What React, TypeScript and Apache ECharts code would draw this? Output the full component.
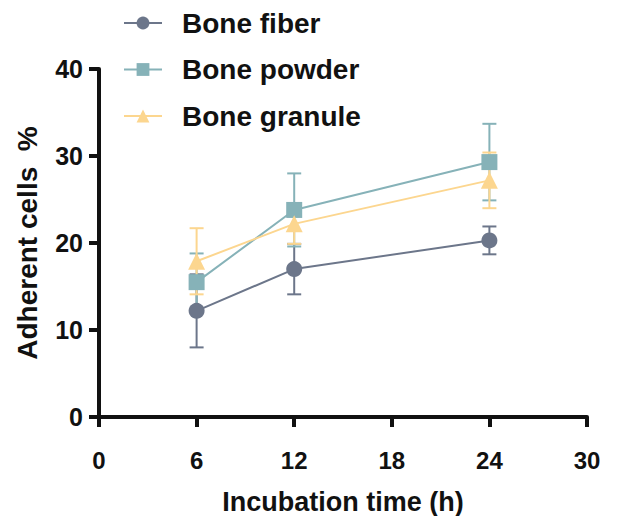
import React, { useEffect, useRef } from "react";
import * as echarts from "echarts";

const times = [6, 12, 24];
const seriesNames = ["Bone fiber", "Bone powder", "Bone granule"];
const fiberMean = [12.2, 17.0, 20.3];
const fiberSd = [4.2, 2.9, 1.6];
const powderMean = [15.5, 23.8, 29.3];
const powderSd = [3.3, 4.2, 4.4];
const granuleMean = [17.9, 22.2, 27.2];
const granuleSd = [3.8, 2.3, 3.2];
const colors = ["#6c768a", "#86b2b8", "#fcd68f"];
const symbols = ["circle", "rect", "triangle"];
const xTicks = [0, 6, 12, 18, 24, 30];

const FONT = "'Liberation Sans', Arial, Helvetica, sans-serif";

export default function App() {
  const ref = useRef<HTMLDivElement>(null);
  useEffect(() => {
    if (!ref.current) return;
    const chart = echarts.init(ref.current, null, { renderer: "svg" });
    const means = [fiberMean, powderMean, granuleMean];
    const sds = [fiberSd, powderSd, granuleSd];

    const errSeries = means.map((m, si) => ({
      type: "custom",
      name: seriesNames[si] + " err",
      z: 1,
      silent: true,
      data: times.map((t, i) => [t, m[i] - sds[si][i], m[i] + sds[si][i]]),
      renderItem: (params: any, api: any) => {
        const x = api.value(0);
        const lo = api.coord([x, api.value(1)]);
        const hi = api.coord([x, api.value(2)]);
        const hw = 7;
        const style = { stroke: colors[si], lineWidth: 2 };
        return {
          type: "group",
          children: [
            { type: "line", shape: { x1: lo[0], y1: lo[1], x2: hi[0], y2: hi[1] }, style },
            { type: "line", shape: { x1: lo[0] - hw, y1: lo[1], x2: lo[0] + hw, y2: lo[1] }, style },
            { type: "line", shape: { x1: hi[0] - hw, y1: hi[1], x2: hi[0] + hw, y2: hi[1] }, style },
          ],
        };
      },
    }));

    const lineSeries = means.map((m, si) => ({
      type: "line",
      name: seriesNames[si],
      z: 3,
      data: times.map((t, i) => [t, m[i]]),
      symbol: symbols[si],
      symbolSize: si === 2 ? 17 : 16,
      lineStyle: { color: colors[si], width: 2 },
      itemStyle: { color: colors[si] },
    }));

    chart.setOption({
      animation: false,
      color: colors,
      grid: { left: 99, right: 56, top: 69, bottom: 99, containLabel: false, outerBoundsMode: "none" },
      legend: {
        orient: "vertical",
        left: 118,
        top: 4,
        itemGap: 18.5,
        itemWidth: 38,
        itemHeight: 16,
        data: seriesNames,
        textStyle: {
          fontFamily: FONT,
          fontWeight: "bold",
          fontSize: 28,
          color: "#111",
          padding: [0, 0, 0, 15],
        },
      },
      xAxis: {
        type: "value",
        min: 0,
        max: 30,
        interval: 6,
        name: "Incubation time (h)",
        nameLocation: "middle",
        nameGap: 71,
        nameTextStyle: { fontFamily: FONT, fontWeight: "bold", fontSize: 27, color: "#111" },
        axisLine: { show: true, onZero: false, lineStyle: { color: "#111", width: 4 } },
        axisTick: { show: true, length: 10, lineStyle: { color: "#111", width: 4 } },
        axisLabel: {
          margin: 31,
          fontFamily: FONT,
          fontWeight: "bold",
          fontSize: 24,
          color: "#111",
          formatter: (v: number) => (xTicks.includes(v) ? String(v) : ""),
        },
        splitLine: { show: false },
      },
      yAxis: {
        type: "value",
        min: 0,
        max: 40,
        interval: 10,
        name: "Adherent cells  %",
        nameLocation: "middle",
        nameGap: 58,
        nameTextStyle: { fontFamily: FONT, fontWeight: "bold", fontSize: 28, color: "#111" },
        axisLine: { show: true, onZero: false, lineStyle: { color: "#111", width: 4 } },
        axisTick: { show: true, length: 10, lineStyle: { color: "#111", width: 4 } },
        axisLabel: { margin: 16, fontFamily: FONT, fontWeight: "bold", fontSize: 25, color: "#111" },
        splitLine: { show: false },
      },
      series: [...errSeries, ...lineSeries],
    } as any);
    return () => chart.dispose();
  }, []);
  return <div ref={ref} style={{ width: 643, height: 516, position: "absolute", left: 0, top: 0 }} />;
}
